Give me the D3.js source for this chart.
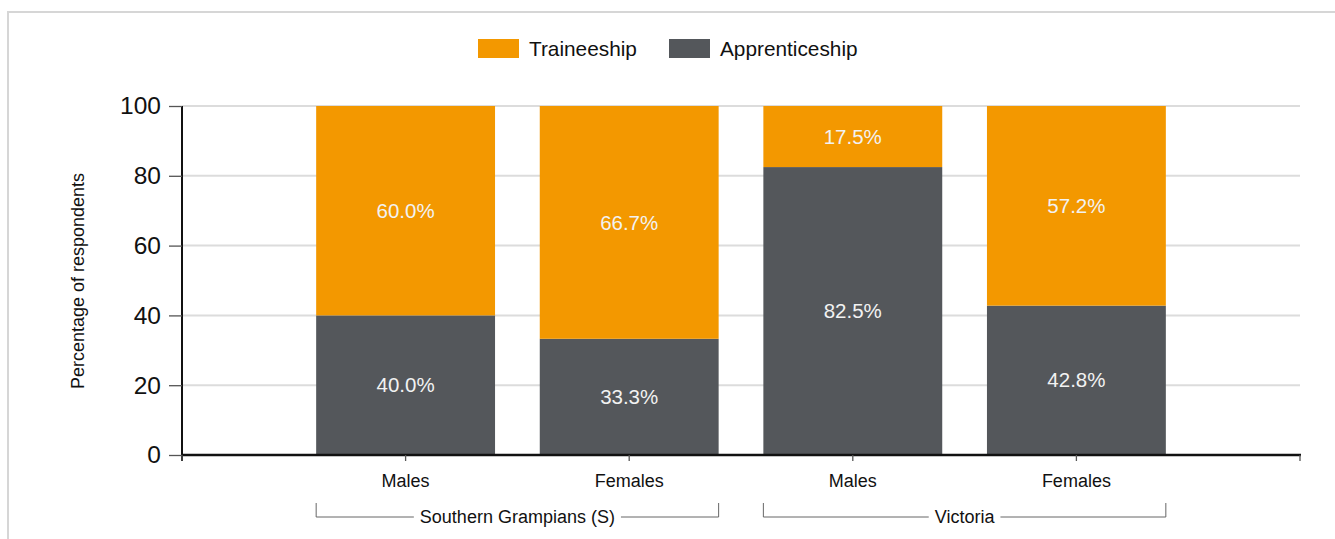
<!DOCTYPE html>
<html><head><meta charset="utf-8">
<script src="https://cdn.jsdelivr.net/npm/d3@7"></script>
<style>body{margin:0;background:#fff;font-family:"Liberation Sans",Arial,sans-serif;}</style>
</head><body><svg id="c" width="1335" height="539"></svg>
<script>
const categories = ["Males","Females","Males","Females"];
const groups = [{name:"Southern Grampians (S)", from:0, to:1},{name:"Victoria", from:2, to:3}];
const apprenticeship = [40.0, 33.3, 82.5, 42.8];
const traineeship = [60.0, 66.7, 17.5, 57.2];
const yTicks = [0,20,40,60,80,100];
const seriesNames = ["Traineeship","Apprenticeship"];
const colors = {Traineeship:"#F39800", Apprenticeship:"#54575B"};

const svg = d3.select("#c");
const L=182, R=1300, T=106, B=455;
svg.append("rect").attr("x",8).attr("y",12).attr("width",1340).attr("height",540)
  .attr("fill","none").attr("stroke","#d6d6d6").attr("stroke-width",2);

const y = d3.scaleLinear().domain([0,100]).range([B,T]);
const step = (R-L)/5;
const x = d3.scaleBand().domain(d3.range(categories.length)).range([L+step/2, R-step/2]).paddingInner(0.2).paddingOuter(0.1);

// grid
svg.append("g").selectAll("line").data(yTicks.filter(d=>d>0)).join("line")
  .attr("x1",L).attr("x2",R).attr("y1",d=>y(d)).attr("y2",d=>y(d))
  .attr("stroke","#dcdcdc").attr("stroke-width",2);

// bars
const data = categories.map((c,i)=>({i, a:apprenticeship[i], t:traineeship[i]}));
const g = svg.append("g");
g.selectAll("rect.a").data(data).join("rect").attr("class","a")
  .attr("x",d=>x(d.i)).attr("width",x.bandwidth())
  .attr("y",d=>y(d.a)).attr("height",d=>y(0)-y(d.a)).attr("fill",colors.Apprenticeship);
g.selectAll("rect.t").data(data).join("rect").attr("class","t")
  .attr("x",d=>x(d.i)).attr("width",x.bandwidth())
  .attr("y",d=>y(d.a+d.t)).attr("height",d=>y(d.a)-y(d.a+d.t)).attr("fill",colors.Traineeship);
const fmt = d3.format(".1f");
g.selectAll("text.la").data(data).join("text")
  .attr("x",d=>x(d.i)+x.bandwidth()/2).attr("y",d=>y(d.a/2)).attr("dy","0.35em")
  .attr("text-anchor","middle").attr("fill","#f2f2f2").attr("font-size",20.5).text(d=>fmt(d.a)+"%");
g.selectAll("text.lt").data(data).join("text")
  .attr("x",d=>x(d.i)+x.bandwidth()/2).attr("y",d=>y(d.a+d.t/2)).attr("dy","0.35em")
  .attr("text-anchor","middle").attr("fill","#f2f2f2").attr("font-size",20.5).text(d=>fmt(d.t)+"%");

// y axis
const ya = svg.append("g").attr("transform",`translate(${L},0)`)
  .call(d3.axisLeft(y).tickValues(yTicks).tickSize(13).tickPadding(8));
ya.select(".domain").attr("stroke","#111").attr("stroke-width",2).attr("d",`M0,${T}V${B+6}`);
ya.selectAll(".tick line").attr("stroke","#555").attr("stroke-width",1.3);
ya.selectAll(".tick text").attr("font-size",24.5).attr("fill","#111").attr("font-family","Liberation Sans, Arial, sans-serif");

// x axis
const xa = svg.append("g").attr("transform",`translate(0,${B})`);
xa.append("line").attr("x1",L).attr("x2",R+1).attr("stroke","#111").attr("stroke-width",2.5);
const xticks = [L, ...data.map(d=>x(d.i)+x.bandwidth()/2), R];
xa.selectAll("line.t").data(xticks).join("line").attr("class","t")
  .attr("x1",d=>d).attr("x2",d=>d).attr("y1",0).attr("y2",6).attr("stroke","#555").attr("stroke-width",1.3);
xa.selectAll("text").data(data).join("text")
  .attr("x",d=>x(d.i)+x.bandwidth()/2).attr("y",32).attr("text-anchor","middle")
  .attr("font-size",18).attr("fill","#111").text(d=>categories[d.i]);

// group brackets
const gy = 517;
groups.forEach(gr=>{
  const x0 = x(gr.from), x1 = x(gr.to)+x.bandwidth();
  const cx = (x0+x1)/2;
  const t = svg.append("text").attr("x",cx).attr("y",gy).attr("dy","0.35em").attr("text-anchor","middle")
    .attr("font-size",18).attr("fill","#111").text(gr.name);
  const w = t.node().getComputedTextLength();
  svg.append("path").attr("d",`M${x0},${gy-14}V${gy}H${cx-w/2-6}M${cx+w/2+6},${gy}H${x1}V${gy-14}`)
    .attr("fill","none").attr("stroke","#666").attr("stroke-width",1);
});

// y title
svg.append("text").attr("transform","translate(84,281) rotate(-90)").attr("text-anchor","middle")
  .attr("font-size",18).attr("fill","#111").text("Percentage of respondents");

// legend
const leg = [{n:"Traineeship",x:478},{n:"Apprenticeship",x:669}];
leg.forEach(l=>{
  svg.append("rect").attr("x",l.x).attr("y",39).attr("width",41).attr("height",19).attr("fill",colors[l.n]);
  svg.append("text").attr("x",l.x+51).attr("y",48.5).attr("dy","0.35em").attr("font-size",20.8).attr("fill","#111").text(l.n);
});
</script></body></html>
